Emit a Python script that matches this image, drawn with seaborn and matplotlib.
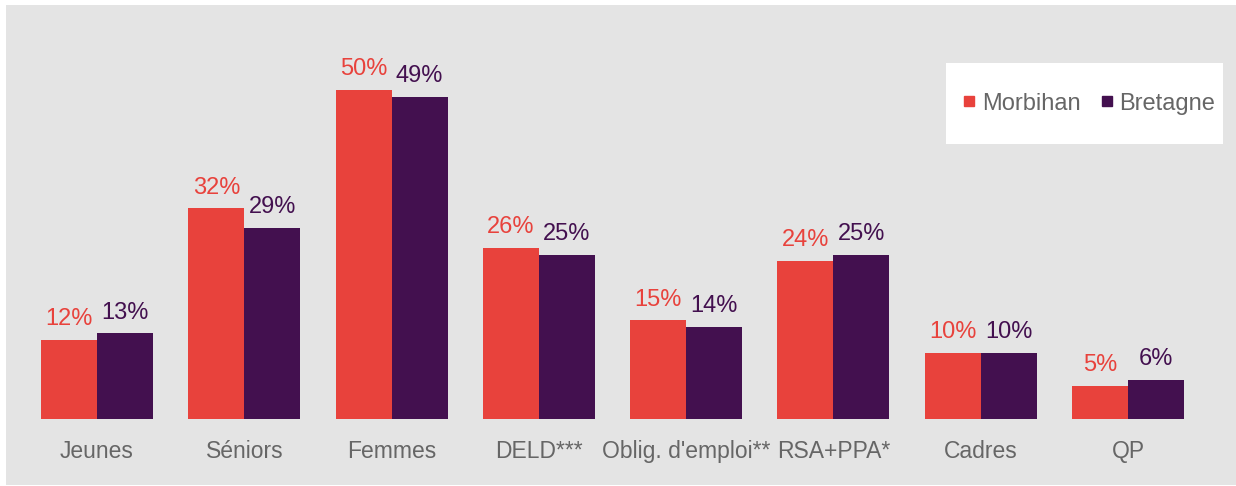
import matplotlib
matplotlib.use("Agg")
import matplotlib.pyplot as plt
from matplotlib.lines import Line2D
from matplotlib.patches import Rectangle
import seaborn as sns
import pandas as pd

categories = ["Jeunes", "Séniors", "Femmes", "DELD***", "Oblig. d'emploi**",
              "RSA+PPA*", "Cadres", "QP"]
morbihan = [12, 32, 50, 26, 15, 24, 10, 5]
bretagne = [13, 29, 49, 25, 14, 25, 10, 6]
series = ["Morbihan", "Bretagne"]
colors = ["#e8423c", "#43104f"]

df = pd.DataFrame({
    "cat": categories * 2,
    "val": morbihan + bretagne,
    "zone": [series[0]] * len(categories) + [series[1]] * len(categories),
})

sns.set_style("white")
plt.rcParams['font.family'] = ['Liberation Sans', 'DejaVu Sans']

W, H = 1236, 486
fig = plt.figure(figsize=(W / 100, H / 100), dpi=100, facecolor="white")
# grey panel and white legend box
fig.patches.append(Rectangle((6 / W, 1 - 485 / H), (W - 6) / W, 480 / H,
                             transform=fig.transFigure, facecolor="#e4e4e4",
                             edgecolor="none", zorder=-5))
fig.patches.append(Rectangle((946 / W, 1 - 144 / H), 277 / W, 81 / H,
                             transform=fig.transFigure, facecolor="white",
                             edgecolor="none", zorder=-4))

# axes: x from -0.5..7.5 mapped to pixels 23.4..1201.6, y 0 at pixel 419
px_per = 6.58
ytop = 55
left, right = 23.4, 1201.6
bottom_px = 419
top_px = bottom_px - ytop * px_per
ax = fig.add_axes([left / W, 1 - bottom_px / H, (right - left) / W, (bottom_px - top_px) / H])
ax.patch.set_alpha(0)

sns.barplot(data=df, x="cat", y="val", hue="zone", palette=colors, ax=ax,
            width=0.76, gap=0, saturation=1, legend=False, errorbar=None,
            linewidth=0)
ax.set_xlim(-0.5, 7.5)
ax.set_ylim(0, ytop)

fs = 17
for cont, col in zip(ax.containers, colors):
    for bar in cont:
        h = bar.get_height()
        ax.annotate(f"{h:.0f}%", (bar.get_x() + bar.get_width() / 2, h),
                    xytext=(0, 7), textcoords="offset points",
                    ha="center", va="bottom", fontsize=fs, color=col)

ax.set_xlabel("")
ax.set_ylabel("")
ax.set_yticks([])
ax.tick_params(axis="x", length=0, labelsize=16.5, labelcolor="#666666", pad=15)
for s in ax.spines.values():
    s.set_visible(False)

handles = [Line2D([], [], marker="s", linestyle="none", markersize=7.5,
                  markerfacecolor=c, markeredgecolor=c) for c in colors]
leg = fig.legend(handles, series, loc="center", ncol=2,
                 bbox_to_anchor=(1089.5 / W, 1 - 103.5 / H), bbox_transform=fig.transFigure,
                 fontsize=fs, frameon=False, borderpad=0,
                 handletextpad=0.3, columnspacing=0.9, handlelength=0.45,
                 borderaxespad=0)
for t in leg.get_texts():
    t.set_color("#666666")

fig.savefig("out.png", dpi=100, facecolor="white")
